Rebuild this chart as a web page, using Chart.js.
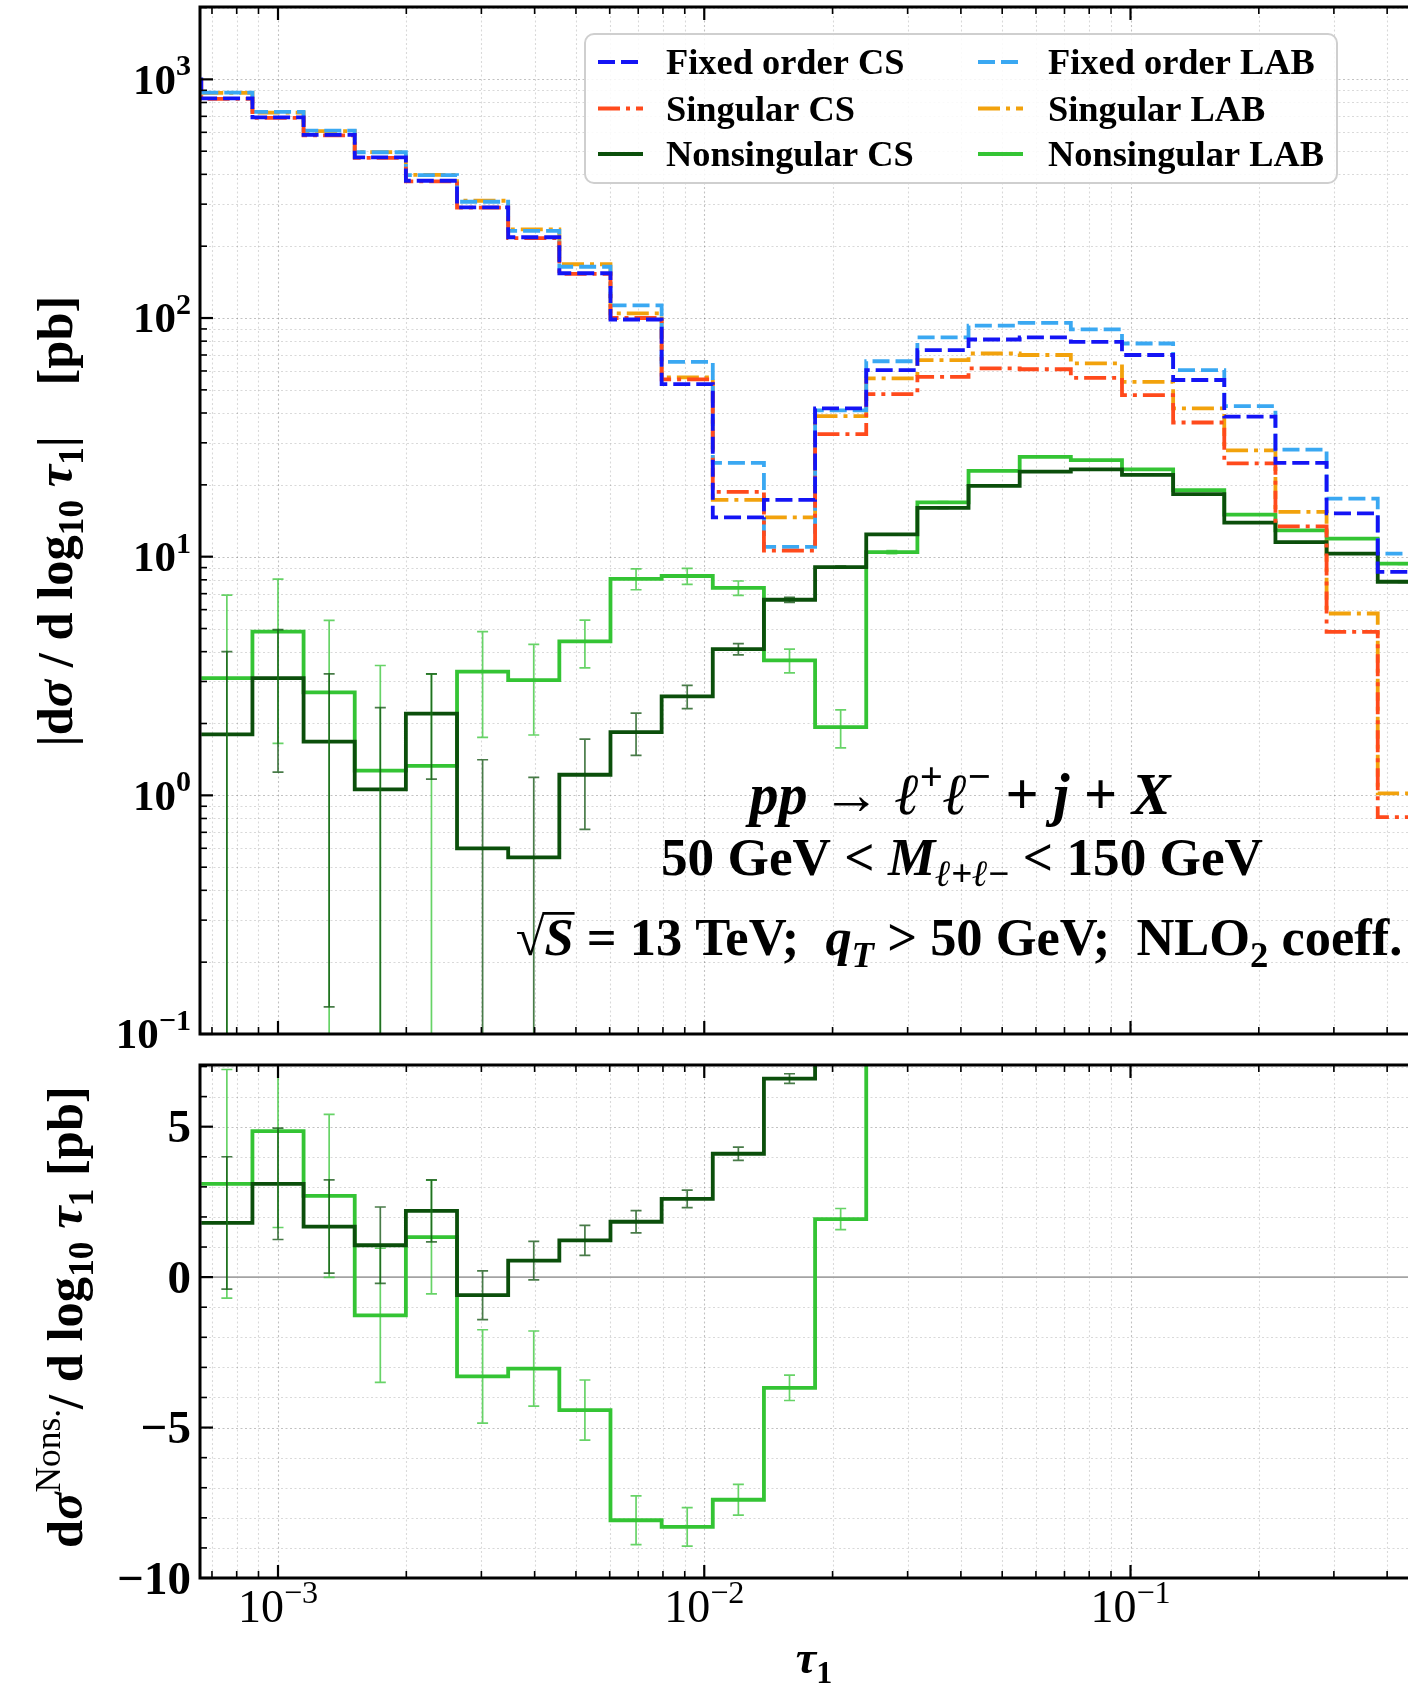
<!DOCTYPE html>
<html>
<head>
<meta charset="utf-8">
<script src="https://cdn.jsdelivr.net/npm/chart.js@4.4.0/dist/chart.umd.min.js"></script>
<style>
  html, body { margin: 0; padding: 0; background: #fff; }
  #wrap { position: relative; width: 1408px; height: 1685px; overflow: hidden; }
  canvas { position: absolute; left: 0; }
  #cTop { top: 0; }
  #cBot { top: 1050px; }
</style>
</head>
<body>
<div id="wrap">
  <canvas id="cTop" width="1408" height="1050"></canvas>
  <canvas id="cBot" width="1408" height="635"></canvas>
</div>
<script>
// bin edges in log10(tau1); first bin lies just left of the axis
const edgeExp = [-3.30, -3.18, -3.06, -2.94, -2.82, -2.70, -2.58, -2.46, -2.34, -2.22, -2.10,
  -1.98, -1.86, -1.74, -1.62, -1.50, -1.38, -1.26, -1.14, -1.02, -0.90, -0.78, -0.66, -0.54, -0.42, -0.30];

// |dsigma / dlog10 tau1| [pb], one value per bin
const foCS    = [1000, 832, 693, 585, 471, 376, 291, 218, 154, 98.6, 52.8, 14.6, 17.3, 41.8, 60.5, 73.3, 81.3, 83, 79.4, 70, 55, 38.6, 24.7, 15.2, 8.63];
const singCS  = [990, 828, 690, 582, 469, 374, 290, 216, 153, 100, 55.3, 18.7, 10.6, 32.6, 48.0, 56.7, 61.5, 61, 56.1, 47.5, 36.5, 24.6, 13.4, 4.84, 0.81];
const foLAB   = [null, 880, 731, 610, 495, 397, 307, 232, 164, 113, 65.5, 24.7, 11.0, 41.0, 65.9, 83.0, 93.0, 95.4, 89.6, 78.2, 60.5, 42.7, 28.1, 17.5, 10.3];
const singLAB = [null, 877, 726, 607, 496, 398, 310, 235, 168, 104.5, 56.4, 17.3, 14.6, 38.8, 55.9, 66.6, 71.0, 70, 64.5, 54, 41.8, 27.9, 15.4, 5.78, 1.02];

// nonsingular (signed) with statistical errors
const nonsCS  = [null, 1.8, 3.1, 1.68, 1.06, 2.2, -0.6, 0.55, 1.22, 1.84, 2.6, 4.1, 6.6, 9.05, 12.4, 16.0, 19.8, 22.7, 23.2, 22.0, 18.3, 13.9, 11.5, 10.3, 7.85];
const errCS   = [null, 2.2, 1.85, 1.55, 1.27, 1.03, 0.81, 0.64, 0.5, 0.37, 0.29, 0.22, 0.16, 0.08, 0.06, 0.05, 0.05, 0.05, 0.05, 0.05, 0.05, 0.05, 0.05, 0.05, 0.05];
const nonsLAB = [null, 3.1, 4.85, 2.7, -1.27, 1.33, -3.3, -3.04, -4.42, -8.08, -8.3, -7.4, -3.68, 1.93, 10.45, 16.9, 22.9, 26.2, 25.4, 23.2, 19.0, 15.0, 12.9, 11.9, 9.35];
const errLAB  = [null, 3.8, 3.2, 2.71, 2.23, 1.89, 1.55, 1.25, 1.0, 0.81, 0.64, 0.51, 0.42, 0.35, 0.15, 0.1, 0.08, 0.07, 0.07, 0.07, 0.06, 0.06, 0.06, 0.06, 0.06];

// tick labels
const xTickExp = [-3, -2, -1];
const yTopTickExp = [-1, 0, 1, 2, 3];
const yBotTicks = [-10, -5, 0, 5];

const COL = {
  foCS: '#1414f5', singCS: '#ff4a1c', nonsCS: '#0b4f0b',
  foLAB: '#3aa8f2', singLAB: '#f2a20c', nonsLAB: '#34c434'
};
const DASHED = [17, 6];
const DASHDOT = [22, 6, 4, 6];
const LW = 3.8;

const X_MIN = Math.pow(10, -3.183), X_MAX = Math.pow(10, -0.349);
const SERIF = '"Liberation Serif", "DejaVu Serif", serif';

function steps(vals, absVal) {
  const f = v => v == null ? null : (absVal ? Math.abs(v) : v);
  const pts = vals.map((v, i) => ({ x: Math.pow(10, edgeExp[i]), y: f(v) }));
  pts.push({ x: Math.pow(10, edgeExp[vals.length]), y: f(vals[vals.length - 1]) });
  return pts;
}
function binCenter(i) { return Math.pow(10, (edgeExp[i] + edgeExp[i + 1]) / 2); }

// ---------- rich text helpers ----------
function fontStr(p, size) {
  const s = (p.sup || p.sub) ? size * 0.7 : size;
  return (p.i ? 'italic ' : '') + (p.b === 0 ? '' : 'bold ') + s.toFixed(2) + 'px ' + SERIF;
}
function richWidth(ctx, parts, size) {
  let w = 0;
  parts.forEach(p => { ctx.font = fontStr(p, size); w += ctx.measureText(p.t).width; });
  return w;
}
function fitSize(ctx, parts, target) { return 100 * target / richWidth(ctx, parts, 100); }
function drawRich(ctx, parts, x, y, size, align) {
  const w = richWidth(ctx, parts, size);
  let cx = align === 'center' ? x - w / 2 : (align === 'right' ? x - w : x);
  ctx.textAlign = 'left';
  ctx.textBaseline = 'alphabetic';
  parts.forEach(p => {
    ctx.font = fontStr(p, size);
    const dy = p.sup ? -size * 0.42 : (p.sub ? size * 0.22 : 0);
    ctx.fillText(p.t, cx, y + dy);
    const pw = ctx.measureText(p.t).width;
    if (p.over) {
      ctx.save();
      ctx.lineWidth = size * 0.05;
      ctx.strokeStyle = ctx.fillStyle;
      ctx.beginPath();
      ctx.moveTo(cx - 2, y - size * 0.80);
      ctx.lineTo(cx + pw + 1, y - size * 0.80);
      ctx.stroke();
      ctx.restore();
    }
    cx += pw;
  });
  return w;
}

// ---------- axes drawing ----------
function logPositions(min, max) {
  const out = [];
  for (let d = Math.floor(Math.log10(min)); d <= Math.ceil(Math.log10(max)); d++) {
    for (let k = 1; k <= 9; k++) {
      const v = k * Math.pow(10, d);
      if (v >= min * 0.9999 && v <= max * 1.0001) out.push({ v, major: k === 1 });
    }
  }
  return out;
}
function yPositions(chart) {
  const y = chart.scales.y;
  if (chart.options.panel === 'top') return logPositions(y.min, y.max);
  const out = [];
  for (let v = Math.ceil(y.min); v <= y.max; v++) out.push({ v, major: v % 5 === 0 });
  return out;
}

function drawGrid(chart) {
  const { ctx, chartArea: a, scales: { x, y } } = chart;
  ctx.save();
  ctx.beginPath(); ctx.rect(a.left, a.top, a.right - a.left, a.bottom - a.top); ctx.clip();
  ctx.lineWidth = 1.1;
  ctx.setLineDash([2, 2.5]);
  logPositions(x.min, x.max).forEach(t => {
    const px = Math.round(x.getPixelForValue(t.v)) + 0.5;
    ctx.strokeStyle = t.major ? 'rgba(0,0,0,0.24)' : 'rgba(0,0,0,0.15)';
    ctx.beginPath(); ctx.moveTo(px, a.top); ctx.lineTo(px, a.bottom); ctx.stroke();
  });
  yPositions(chart).forEach(t => {
    const py = Math.round(y.getPixelForValue(t.v)) + 0.5;
    ctx.strokeStyle = t.major ? 'rgba(0,0,0,0.24)' : 'rgba(0,0,0,0.15)';
    ctx.beginPath(); ctx.moveTo(a.left, py); ctx.lineTo(a.right, py); ctx.stroke();
  });
  ctx.setLineDash([]);
  if (chart.options.panel === 'bot') {
    const p0 = y.getPixelForValue(0);
    ctx.strokeStyle = '#a3a3a3';
    ctx.lineWidth = 1.6;
    ctx.beginPath(); ctx.moveTo(a.left, p0); ctx.lineTo(a.right, p0); ctx.stroke();
  }
  ctx.restore();
}

function drawFrame(chart) {
  const { ctx, chartArea: a, scales: { x, y } } = chart;
  ctx.save();
  ctx.strokeStyle = '#000';
  ctx.setLineDash([]);
  // ticks, inward
  logPositions(x.min, x.max).forEach(t => {
    const px = x.getPixelForValue(t.v);
    const len = t.major ? 13 : 7;
    ctx.lineWidth = t.major ? 2.2 : 1.6;
    ctx.beginPath();
    ctx.moveTo(px, a.top); ctx.lineTo(px, a.top + len);
    ctx.moveTo(px, a.bottom); ctx.lineTo(px, a.bottom - len);
    ctx.stroke();
  });
  yPositions(chart).forEach(t => {
    const py = y.getPixelForValue(t.v);
    const len = t.major ? 13 : 7;
    ctx.lineWidth = t.major ? 2.2 : 1.6;
    ctx.beginPath(); ctx.moveTo(a.left, py); ctx.lineTo(a.left + len, py); ctx.stroke();
  });
  // spines
  ctx.lineWidth = 3;
  ctx.beginPath();
  ctx.moveTo(a.right + 2, a.top); ctx.lineTo(a.left, a.top); ctx.lineTo(a.left, a.bottom); ctx.lineTo(a.right + 2, a.bottom);
  ctx.stroke();
  ctx.restore();
}

function drawErrors(chart, vals, errs, color, absMode) {
  const { ctx, chartArea: a, scales: { x, y } } = chart;
  const CAP = 5.5;
  ctx.save();
  ctx.beginPath(); ctx.rect(a.left, a.top, a.right - a.left, a.bottom - a.top); ctx.clip();
  ctx.strokeStyle = color;
  ctx.lineWidth = 1.7;
  ctx.setLineDash([]);
  vals.forEach((v, i) => {
    if (v == null) return;
    const c = absMode ? Math.abs(v) : v;
    const hi = c + errs[i], lo = c - errs[i];
    const px = x.getPixelForValue(binCenter(i));
    const pHi = y.getPixelForValue(hi);
    const open = absMode && lo <= 0;
    const pLo = open ? a.bottom + 20 : y.getPixelForValue(lo);
    ctx.beginPath();
    ctx.moveTo(px, pHi); ctx.lineTo(px, pLo);
    ctx.moveTo(px - CAP, pHi); ctx.lineTo(px + CAP, pHi);
    if (!open) { ctx.moveTo(px - CAP, pLo); ctx.lineTo(px + CAP, pLo); }
    ctx.stroke();
  });
  ctx.restore();
}

function drawLegend(chart) {
  const ctx = chart.ctx;
  const ds = chart.data.datasets;
  ctx.save();
  const bx = 585, by = 34, bw = 752, bh = 149, r = 9;
  ctx.beginPath();
  ctx.moveTo(bx + r, by); ctx.lineTo(bx + bw - r, by); ctx.arcTo(bx + bw, by, bx + bw, by + r, r);
  ctx.lineTo(bx + bw, by + bh - r); ctx.arcTo(bx + bw, by + bh, bx + bw - r, by + bh, r);
  ctx.lineTo(bx + r, by + bh); ctx.arcTo(bx, by + bh, bx, by + bh - r, r);
  ctx.lineTo(bx, by + r); ctx.arcTo(bx, by, bx + r, by, r);
  ctx.closePath();
  ctx.fillStyle = 'rgba(255,255,255,0.85)';
  ctx.fill();
  ctx.strokeStyle = '#cfcfcf';
  ctx.lineWidth = 2;
  ctx.stroke();

  const size = fitSize(ctx, [{ t: 'Nonsingular LAB' }], 276);
  const rows = [62, 108.5, 154];
  const cols = [{ x0: 598, tx: 666, idx: [0, 1, 2] }, { x0: 978, tx: 1048, idx: [3, 4, 5] }];
  cols.forEach(c => {
    c.idx.forEach((di, k) => {
      const d = ds[di];
      const yy = rows[k];
      ctx.strokeStyle = d.borderColor;
      ctx.lineWidth = LW;
      ctx.setLineDash(d.borderDash || []);
      ctx.beginPath(); ctx.moveTo(c.x0, yy); ctx.lineTo(c.x0 + 45, yy); ctx.stroke();
      ctx.setLineDash([]);
      ctx.fillStyle = '#000';
      drawRich(ctx, [{ t: d.label }], c.tx, yy + size * 0.33, size, 'left');
    });
  });
  ctx.restore();
}

const annotations = [
  { parts: [{ t: 'pp', i: 1 }, { t: ' → ' }, { t: 'ℓ', i: 1 }, { t: '+', sup: 1 }, { t: 'ℓ', i: 1 }, { t: '−', sup: 1 },
            { t: ' + ' }, { t: 'j', i: 1 }, { t: ' + ' }, { t: 'X', i: 1 }], w: 421, x: 960, y: 795 },
  { parts: [{ t: '50 GeV < ' }, { t: 'M', i: 1 }, { t: 'ℓ', i: 1, sub: 1 }, { t: '+', sub: 1 }, { t: 'ℓ', i: 1, sub: 1 },
            { t: '−', sub: 1 }, { t: ' < 150 GeV' }], w: 602, x: 962, y: 857 },
  { parts: [{ t: '√' }, { t: 'S', i: 1, over: 1 }, { t: ' = 13 TeV;  ' }, { t: 'q', i: 1 }, { t: 'T', i: 1, sub: 1 },
            { t: ' > 50 GeV;  NLO' }, { t: '2', sub: 1 }, { t: ' coeff.' }], w: 887, x: 959, y: 938 }
];

const yLabelTop = [{ t: '|d' }, { t: 'σ', i: 1 }, { t: ' / d log' }, { t: '10', sub: 1 }, { t: ' ' }, { t: 'τ', i: 1 },
  { t: '1', sub: 1 }, { t: '|    [pb]' }];
const yLabelBot = [{ t: 'd' }, { t: 'σ', i: 1 }, { t: 'Nons.', sup: 1, b: 0 }, { t: '/ d log' }, { t: '10', sub: 1 },
  { t: ' ' }, { t: 'τ', i: 1 }, { t: '1', sub: 1 }, { t: ' [pb]' }];

function drawRotated(ctx, parts, cx, cy, target) {
  const size = fitSize(ctx, parts, target);
  ctx.save();
  ctx.translate(cx, cy);
  ctx.rotate(-Math.PI / 2);
  ctx.fillStyle = '#000';
  drawRich(ctx, parts, 0, size * 0.33, size, 'center');
  ctx.restore();
}

const decor = {
  id: 'decor',
  beforeDatasetsDraw(chart) { drawGrid(chart); },
  afterDatasetsDraw(chart) {
    const absMode = chart.options.panel === 'top';
    drawErrors(chart, nonsLAB, errLAB, 'rgba(52,196,52,0.75)', absMode);
    drawErrors(chart, nonsCS, errCS, 'rgba(11,79,11,0.75)', absMode);
  },
  afterDraw(chart) {
    drawFrame(chart);
    const { ctx, scales: { x, y } } = chart;
    ctx.save();
    ctx.fillStyle = '#000';
    if (chart.options.panel === 'top') {
      yTopTickExp.forEach(e => {
        const py = y.getPixelForValue(Math.pow(10, e));
        const s = 43;
        drawRich(ctx, [{ t: '10' }, { t: e < 0 ? '−' + (-e) : String(e), sup: 1 }], 191, py + s * 0.33, s, 'right');
      });
      drawRotated(ctx, yLabelTop, 55, 521, 451);
      drawLegend(chart);
      ctx.fillStyle = '#000';
      annotations.forEach(an => {
        const s = fitSize(ctx, an.parts, an.w);
        drawRich(ctx, an.parts, an.x, an.y + s * 0.33, s, 'center');
      });
    } else {
      yBotTicks.forEach(v => {
        const py = y.getPixelForValue(v);
        const s = 47;
        drawRich(ctx, [{ t: v < 0 ? '−' + (-v) : String(v) }], 191, py + s * 0.33, s, 'right');
      });
      xTickExp.forEach(e => {
        const px = x.getPixelForValue(Math.pow(10, e));
        const s = 46;
        drawRich(ctx, [{ t: '10', b: 0 }, { t: '−' + (-e), sup: 1, b: 0 }], px, 557 + s * 0.33, s, 'center');
      });
      drawRotated(ctx, yLabelBot, 65, 267, 462);
      drawRich(ctx, [{ t: 'τ', i: 1 }, { t: '1', sub: 1 }], 814, 623, 46, 'center');
    }
    ctx.restore();
  }
};

function makeDatasets(absVal) {
  const mk = (label, vals, color, dash) => ({
    label, data: steps(vals, absVal), borderColor: color, backgroundColor: color,
    borderDash: dash, borderWidth: LW, stepped: 'before', pointRadius: 0, fill: false, spanGaps: false
  });
  return [
    mk('Fixed order CS', foCS, COL.foCS, DASHED),
    mk('Singular CS', singCS, COL.singCS, DASHDOT),
    mk('Nonsingular CS', nonsCS, COL.nonsCS, []),
    mk('Fixed order LAB', foLAB, COL.foLAB, DASHED),
    mk('Singular LAB', singLAB, COL.singLAB, DASHDOT),
    mk('Nonsingular LAB', nonsLAB, COL.nonsLAB, [])
  ];
}

function options(panel, yCfg, padTop, xHeight) {
  return {
    panel,
    responsive: false,
    animation: false,
    devicePixelRatio: 1,
    layout: { padding: { top: padTop, left: 0, right: 0, bottom: 0 } },
    plugins: { legend: { display: false }, tooltip: { enabled: false } },
    scales: {
      x: {
        type: 'logarithmic', min: X_MIN, max: X_MAX, bounds: 'data',
        ticks: { display: false }, grid: { display: false }, border: { display: false },
        afterFit: s => { s.height = xHeight; }
      },
      y: Object.assign({
        bounds: 'data',
        ticks: { display: false }, grid: { display: false }, border: { display: false },
        afterFit: s => { s.width = 200; }
      }, yCfg)
    }
  };
}

// top panel: absolute values, log scale
new Chart(document.getElementById('cTop').getContext('2d'), {
  type: 'line',
  data: { datasets: makeDatasets(true) },
  options: options('top', { type: 'logarithmic', min: 0.1, max: 2010 }, 7, 16),
  plugins: [decor]
});

// bottom panel: nonsingular only, linear scale
const botSets = makeDatasets(false).filter(d => d.label.indexOf('Nonsingular') === 0);
new Chart(document.getElementById('cBot').getContext('2d'), {
  type: 'line',
  data: { datasets: botSets },
  options: options('bot', { type: 'linear', min: -10, max: 7.05 }, 15, 107),
  plugins: [decor]
});
</script>
</body>
</html>
